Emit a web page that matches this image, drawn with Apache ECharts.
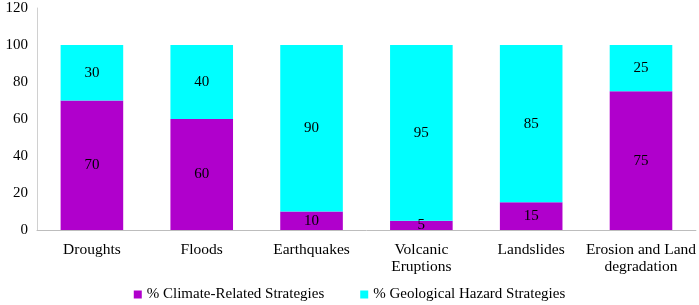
<!DOCTYPE html>
<html>
<head>
<meta charset="utf-8">
<script src="https://cdn.jsdelivr.net/npm/echarts@6/dist/echarts.min.js"></script>
<style>
html, body { margin: 0; padding: 0; background: #fff; }
#chart { width: 699px; height: 305px; }
</style>
</head>
<body>
<div id="chart"></div>
<script>
var categories = ['Droughts', 'Floods', 'Earthquakes', 'Volcanic\nEruptions', 'Landslides', 'Erosion and Land\ndegradation'];
var climateValues = [70, 60, 10, 5, 15, 75];
var geoValues = [30, 40, 90, 95, 85, 25];
var legendNames = ['% Climate-Related Strategies', '% Geological Hazard Strategies'];

var font = 'Liberation Serif, Times New Roman, serif';
var chart = echarts.init(document.getElementById('chart'));

function makeSeries(name, data, color) {
    return {
        name: name, type: 'bar', stack: 'total', barWidth: '57%',
        itemStyle: { color: color },
        label: {
            show: true,
            position: 'inside',
            color: '#000',
            fontFamily: font,
            fontSize: 15
        },
        data: data
    };
}

chart.setOption({
    animation: false,
    textStyle: { fontFamily: font },
    legend: {
        data: legendNames,
        top: 287,
        padding: 0,
        left: 'center',
        icon: 'rect',
        itemWidth: 8,
        itemHeight: 8,
        itemGap: 36,
        textStyle: { color: '#000', fontFamily: font, fontSize: 15 }
    },
    grid: { left: 37, right: 2, top: 8, bottom: 75, containLabel: false },
    xAxis: {
        type: 'category',
        data: categories,
        axisTick: { show: false },
        axisLine: { lineStyle: { color: '#bdbdbd' } },
        axisLabel: { color: '#000', fontFamily: font, fontSize: 15.5, margin: 11, lineHeight: 17, interval: 0 }
    },
    yAxis: {
        type: 'value',
        min: 0, max: 120, interval: 20,
        splitLine: { show: false },
        axisTick: { show: false },
        axisLine: { show: true, lineStyle: { color: '#d0d0d0' } },
        axisLabel: { color: '#000', fontFamily: font, fontSize: 15, margin: 9 }
    },
    series: [
        makeSeries(legendNames[0], climateValues, '#B000CC'),
        makeSeries(legendNames[1], geoValues, '#00FFFF')
    ]
});
</script>
</body>
</html>
